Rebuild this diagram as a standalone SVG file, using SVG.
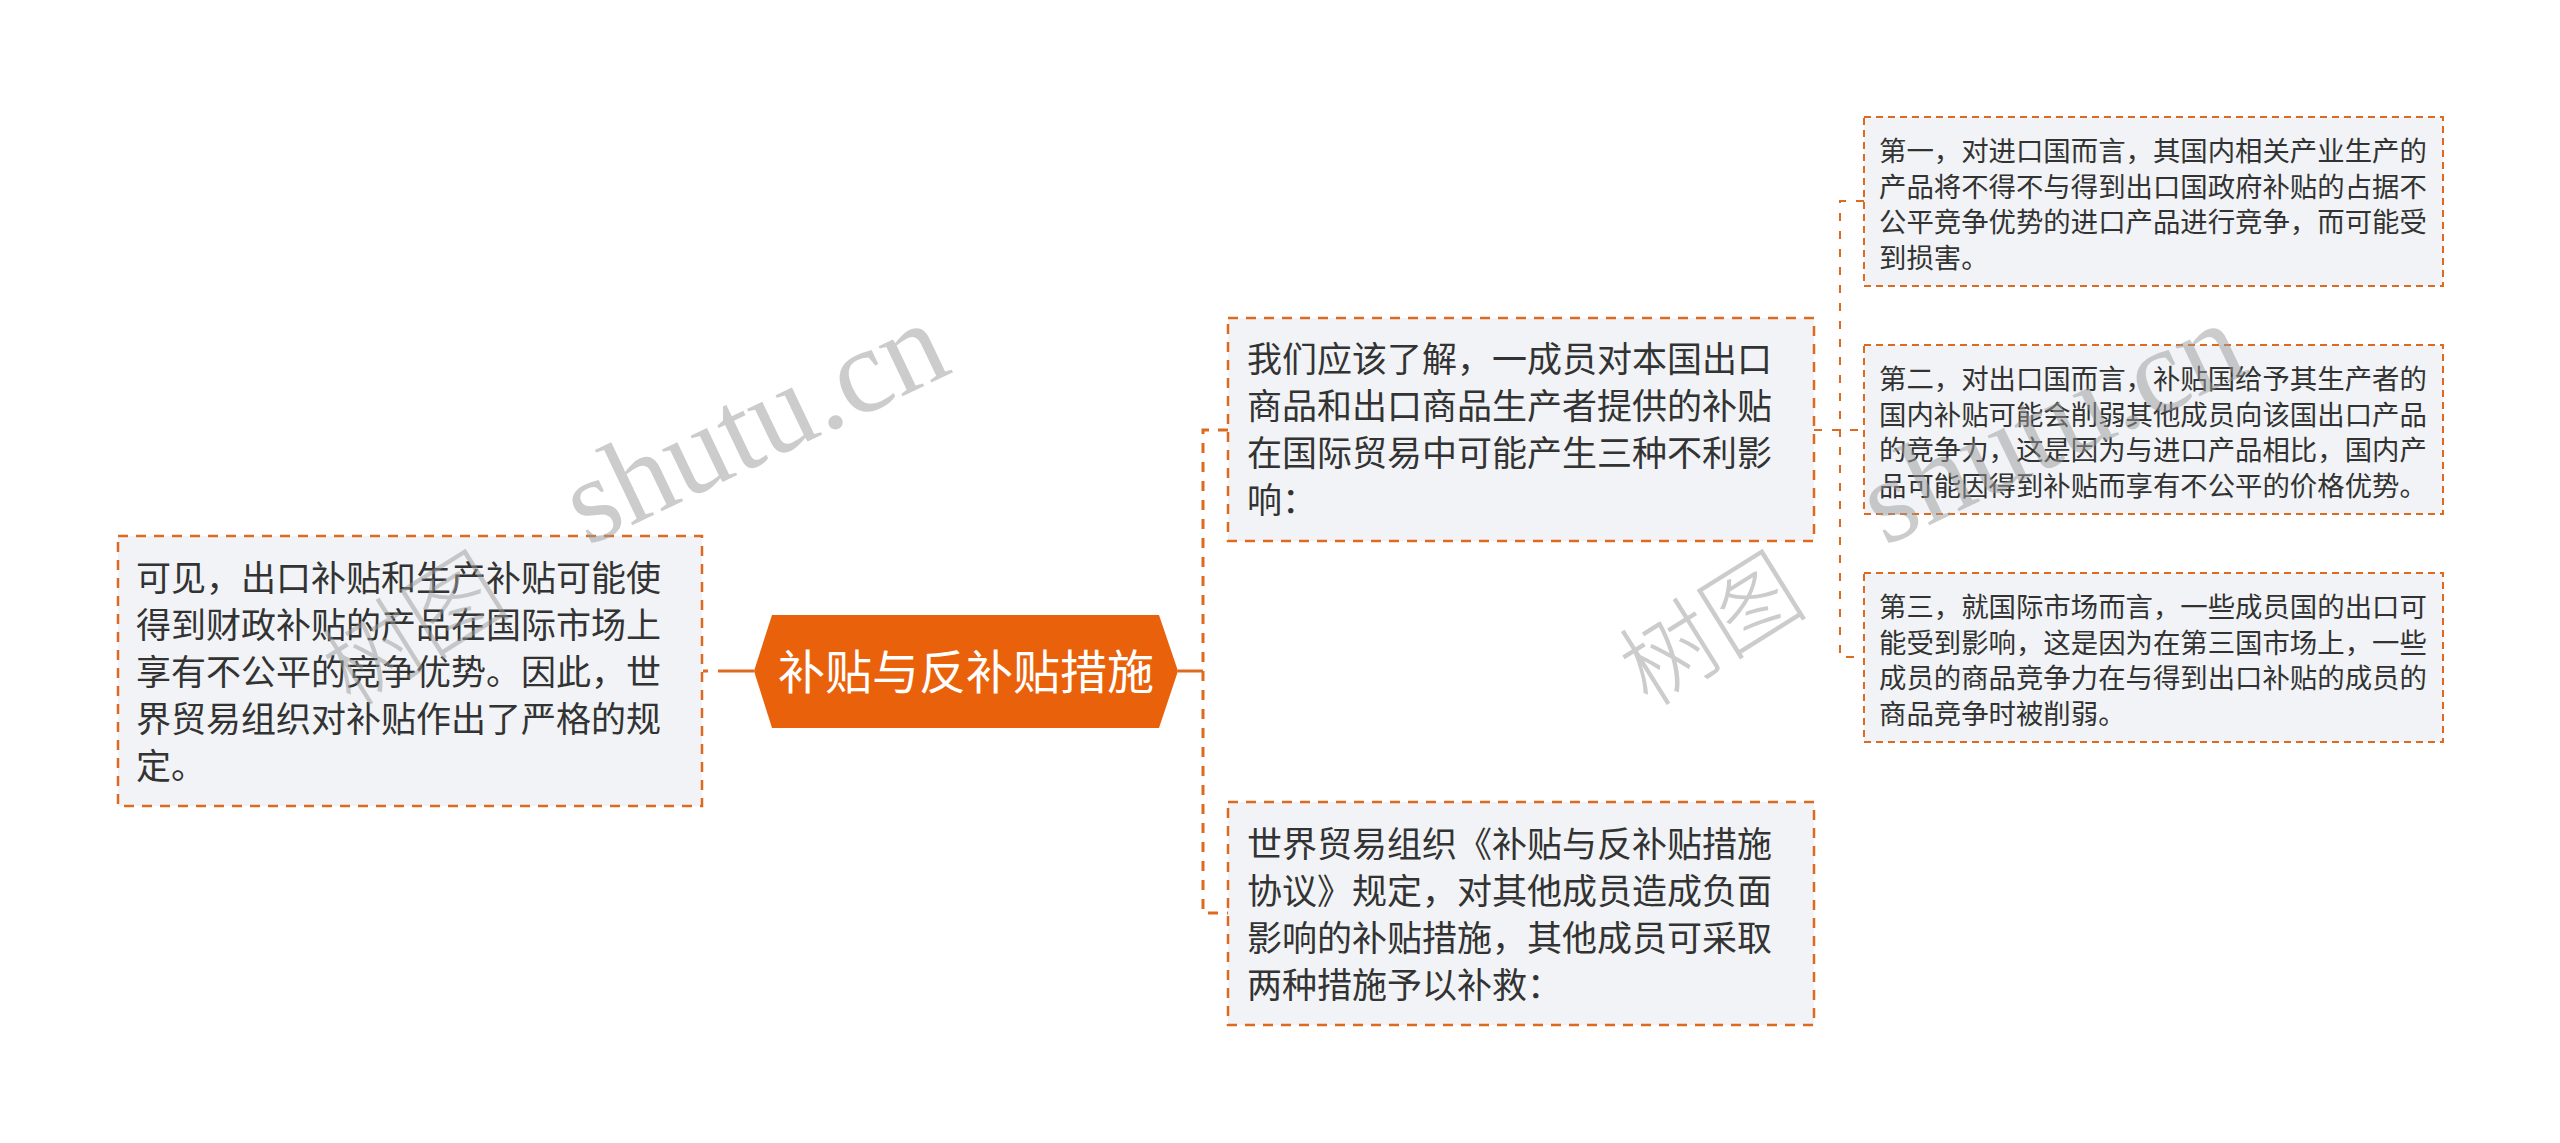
<svg xmlns="http://www.w3.org/2000/svg" width="2560" height="1143" viewBox="0 0 2560 1143">
<style>
.box{fill:#F1F3F6;stroke:#DD6A1E;stroke-width:2.5;stroke-dasharray:10 8}
.sbox{fill:#F1F3F6;stroke:#DD6A1E;stroke-width:2;stroke-dasharray:7 5}
.t{font-family:"Noto Sans CJK SC","Noto Sans",sans-serif;font-size:35px;fill:#333}
.st{font-family:"Noto Sans CJK SC","Noto Sans",sans-serif;font-size:27.4px;fill:#333}
.root{fill:#E9620B}
.rt{font-family:"Noto Sans CJK SC","Noto Sans",sans-serif;font-size:47px;fill:#fff}
.c{fill:none;stroke:#DD6A1E}
.wm{fill:#999;fill-opacity:0.5}
</style>
<rect width="2560" height="1143" fill="#fff"/>
<g id="connectors">
<path class="c" d="M754 671 H703" stroke-width="3" stroke-dasharray="36 10 6 40"/>
<path class="c" d="M1178 671 H1203" stroke-width="3"/>
<path class="c" d="M1228 430 H1203 V913 H1228" stroke-width="3" stroke-dasharray="10 9"/>
<path class="c" d="M1864 201 H1840 V657 H1864" stroke-width="2" stroke-dasharray="8 10"/>
<path class="c" d="M1814 430 H1864" stroke-width="2" stroke-dasharray="8 10"/>
</g>
<g id="node-root">
<polygon class="root" points="754,671 772,615 1159,615 1178,671 1159,728 772,728"/>
<text class="rt" x="966" y="689" text-anchor="middle">补贴与反补贴措施</text>
</g>
<g id="node-left">
<rect class="box" x="118" y="536" width="584" height="270"/>
<text class="t" x="136" y="591">可见，出口补贴和生产补贴可能使</text>
<text class="t" x="136" y="638">得到财政补贴的产品在国际市场上</text>
<text class="t" x="136" y="685">享有不公平的竞争优势。因此，世</text>
<text class="t" x="136" y="732">界贸易组织对补贴作出了严格的规</text>
<text class="t" x="136" y="779">定。</text>
</g>
<g id="node-effects">
<rect class="box" x="1228" y="318" width="586" height="223"/>
<text class="t" x="1247" y="372">我们应该了解，一成员对本国出口</text>
<text class="t" x="1247" y="419">商品和出口商品生产者提供的补贴</text>
<text class="t" x="1247" y="466">在国际贸易中可能产生三种不利影</text>
<text class="t" x="1247" y="513">响：</text>
</g>
<g id="node-remedy">
<rect class="box" x="1228" y="802" width="586" height="223"/>
<text class="t" x="1247" y="857">世界贸易组织《补贴与反补贴措施</text>
<text class="t" x="1247" y="904">协议》规定，对其他成员造成负面</text>
<text class="t" x="1247" y="951">影响的补贴措施，其他成员可采取</text>
<text class="t" x="1247" y="998">两种措施予以补救：</text>
</g>
<g id="node-first">
<rect class="sbox" x="1864" y="117" width="579" height="169"/>
<text class="st" x="1879" y="161">第一，对进口国而言，其国内相关产业生产的</text>
<text class="st" x="1879" y="196.5">产品将不得不与得到出口国政府补贴的占据不</text>
<text class="st" x="1879" y="232">公平竞争优势的进口产品进行竞争，而可能受</text>
<text class="st" x="1879" y="267.5">到损害。</text>
</g>
<g id="node-second">
<rect class="sbox" x="1864" y="345" width="579" height="169"/>
<text class="st" x="1879" y="389">第二，对出口国而言，补贴国给予其生产者的</text>
<text class="st" x="1879" y="424.5">国内补贴可能会削弱其他成员向该国出口产品</text>
<text class="st" x="1879" y="460">的竞争力，这是因为与进口产品相比，国内产</text>
<text class="st" x="1879" y="495.5">品可能因得到补贴而享有不公平的价格优势。</text>
</g>
<g id="node-third">
<rect class="sbox" x="1864" y="573" width="579" height="169"/>
<text class="st" x="1879" y="617">第三，就国际市场而言，一些成员国的出口可</text>
<text class="st" x="1879" y="652.5">能受到影响，这是因为在第三国市场上，一些</text>
<text class="st" x="1879" y="688">成员的商品竞争力在与得到出口补贴的成员的</text>
<text class="st" x="1879" y="723.5">商品竞争时被削弱。</text>
</g>
<g id="watermark">
<text class="wm" transform="translate(432,658) rotate(-32)" text-anchor="middle" font-family="'Noto Sans CJK SC',sans-serif" font-weight="300" font-size="95">树图</text>
<text class="wm" transform="translate(771,459) rotate(-25.5)" text-anchor="middle" font-family="'Liberation Serif',serif" font-size="121">shutu.cn</text>
<text class="wm" transform="translate(1729,658) rotate(-32)" text-anchor="middle" font-family="'Noto Sans CJK SC',sans-serif" font-weight="300" font-size="95">树图</text>
<text class="wm" transform="translate(2068,459) rotate(-25.5)" text-anchor="middle" font-family="'Liberation Serif',serif" font-size="121">shutu.cn</text>
</g>
</svg>
